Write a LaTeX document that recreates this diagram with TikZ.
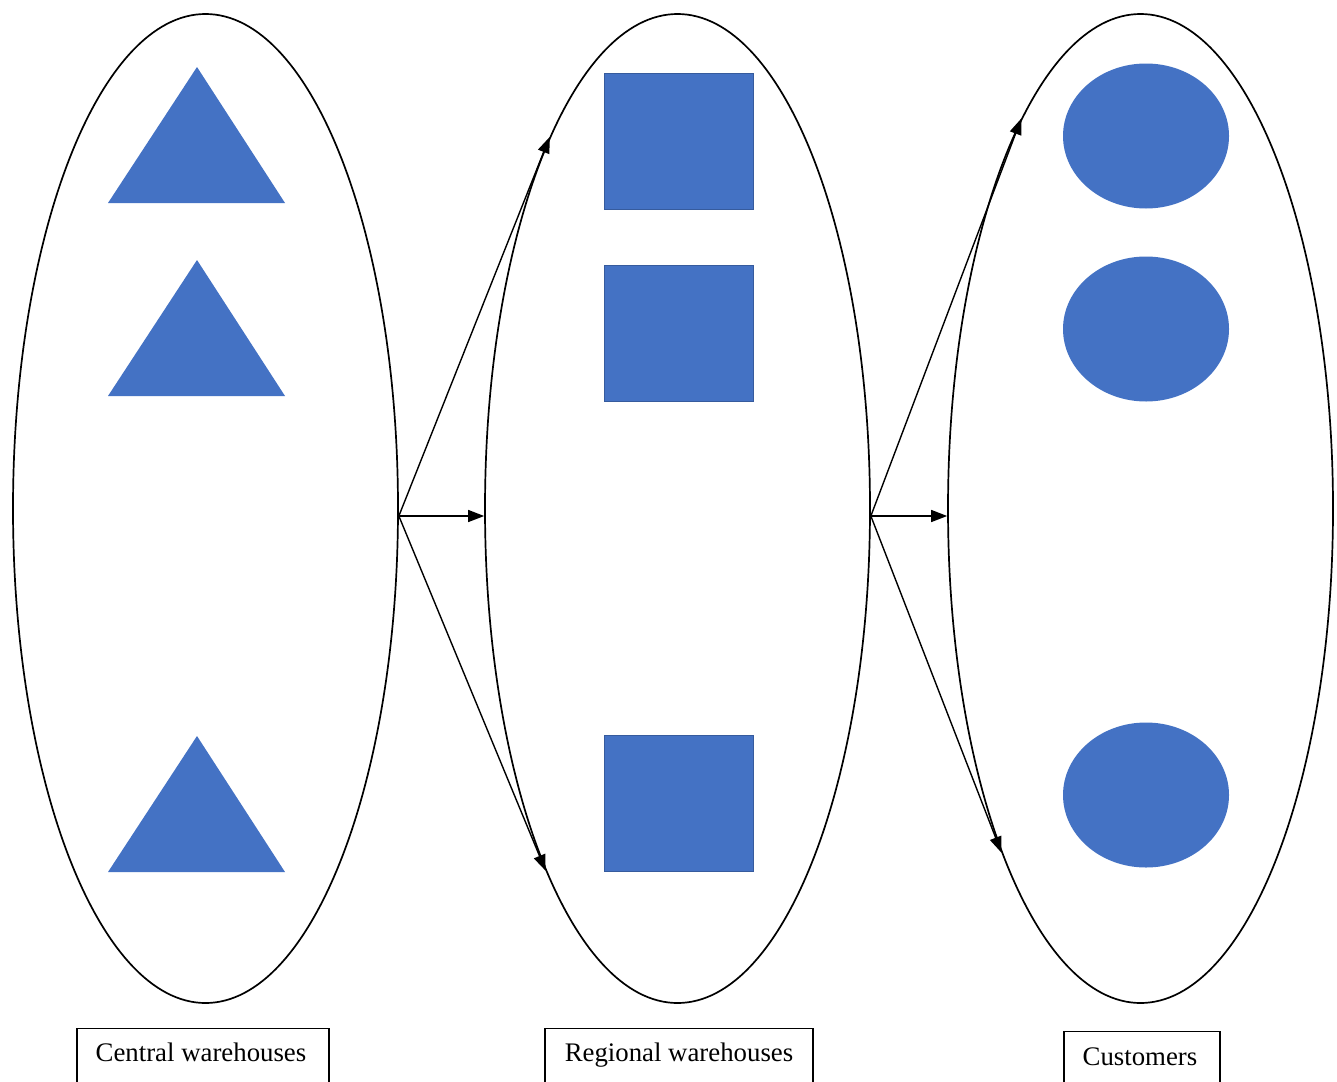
\documentclass[tikz,border=0pt]{standalone}
\usepackage{fontspec}
\setmainfont{Liberation Serif}
\usetikzlibrary{shapes.geometric,arrows.meta}
\definecolor{shapeblue}{HTML}{4472C4}
\begin{document}
\begin{tikzpicture}[x=1pt,y=-1pt,
  group/.style={draw=black,line width=1.7pt,ellipse,inner sep=0pt,minimum width=385pt,minimum height=989pt},
  sq/.style={fill=shapeblue,draw=shapeblue!80!black,line width=0.6pt,rectangle,inner sep=0pt,minimum width=149pt,minimum height=136pt},
  circ/.style={fill=shapeblue,ellipse,inner sep=0pt,minimum width=166pt,minimum height=145pt},
  tri/.style={fill=shapeblue},
  flow/.style={line width=1.4pt,-{Triangle[length=16pt,width=12pt]}},
  labelbox/.style={draw=black,line width=1.4pt,rectangle,inner sep=0pt,anchor=north},
  lbl/.style={font=\fontsize{26.8}{30}\selectfont,inner sep=0pt,anchor=base}]
\useasboundingbox (0,0) rectangle (1337,1081);
\clip (0,0) rectangle (1337,1081);
\fill[white] (0,0) rectangle (1337,1081);

% groups
\node[group] (e1) at (205.5,508.5) {};
\node[group] (e2) at (677.5,508.5) {};
\node[group] (e3) at (1140.5,508.5) {};

% central warehouses (triangles)
\fill[tri] (197,67) -- (285,203) -- (108,203) -- cycle;
\fill[tri] (197,260) -- (285,396) -- (108,396) -- cycle;
\fill[tri] (197,736) -- (285,872) -- (108,872) -- cycle;

% regional warehouses (squares)
\node[sq] (r1) at (678.5,141) {};
\node[sq] (r2) at (678.5,333.5) {};
\node[sq] (r3) at (678.5,803.5) {};

% customers (circles)
\node[circ] (c1) at (1146,136) {};
\node[circ] (c2) at (1146,329) {};
\node[circ] (c3) at (1146,795) {};

% connectors
\coordinate (s1) at ([yshift=-7.5pt]e1.east);
\coordinate (s2) at ([yshift=-7.5pt]e2.east);
\draw[flow] (s1) -- (e2.109.3);
\draw[flow] (s1) -- (s1 -| e2.west);
\draw[flow] (s1) -- (e2.250.1);
\draw[flow] (s2) -- (e3.107.3);
\draw[flow] (s2) -- (s2 -| e3.west);
\draw[flow] (s2) -- (e3.248.6);

% labels
\node[labelbox,minimum width=252pt,minimum height=70pt] (b1) at (203,1028) {};
\node[lbl] (t1) at (201,1061) {Central warehouses};
\node[labelbox,minimum width=268pt,minimum height=70pt] (b2) at (679,1028) {};
\node[lbl] (t2) at (679,1061) {Regional warehouses};
\node[labelbox,minimum width=156pt,minimum height=70pt] (b3) at (1142,1031) {};
\node[lbl] (t3) at (1140,1065) {Customers};
\end{tikzpicture}
\end{document}
